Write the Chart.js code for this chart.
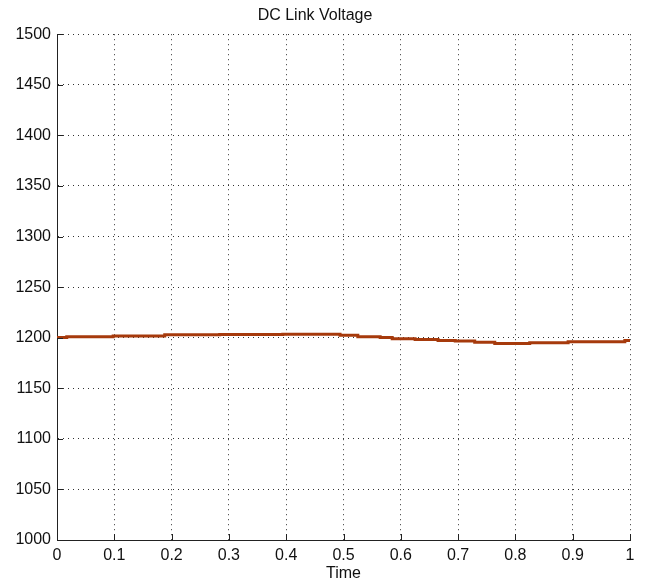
<!DOCTYPE html>
<html>
<head>
<meta charset="utf-8">
<title>DC Link Voltage</title>
<script src="https://cdn.jsdelivr.net/npm/chart.js@4"></script>
<style>
  html, body { margin: 0; padding: 0; background: #fff; }
  #chart { display: block; }
</style>
</head>
<body>
<canvas id="chart" width="645" height="585"></canvas>
<script>
// values
const timeValues = [0, 0.017, 0.098, 0.188, 0.284, 0.394, 0.494, 0.525, 0.564, 0.585, 0.625, 0.665, 0.695, 0.729, 0.764, 0.825, 0.892, 0.991, 1];
const voltageValues = [1199.3, 1200.3, 1201, 1201.7, 1203, 1203.1, 1203.3, 1202.3, 1201, 1200.2, 1199, 1198.3, 1197.3, 1196.6, 1195.5, 1194.3, 1195, 1196, 1197.3];
const xTicks = [0, 0.1, 0.2, 0.3, 0.4, 0.5, 0.6, 0.7, 0.8, 0.9, 1];
const yTicks = [1000, 1050, 1100, 1150, 1200, 1250, 1300, 1350, 1400, 1450, 1500];

const FONT = "'Liberation Sans', Arial, Helvetica, sans-serif";

// short inward tick marks like the matlab axes
const innerTicks = {
    id: 'innerTicks',
    afterDraw(chart) {
        const ctx = chart.ctx;
        const x = chart.scales.x;
        const y = chart.scales.y;
        const area = chart.chartArea;
        ctx.save();
        ctx.strokeStyle = '#222';
        ctx.lineWidth = 1;
        ctx.beginPath();
        xTicks.forEach(t => {
            const px = Math.round(x.getPixelForValue(t)) + 0.5;
            ctx.moveTo(px, area.bottom);
            ctx.lineTo(px, area.bottom - 6);
        });
        yTicks.forEach(v => {
            const py = Math.round(y.getPixelForValue(v)) + 0.5;
            ctx.moveTo(area.left, py);
            ctx.lineTo(area.left + 6, py);
        });
        ctx.stroke();
        ctx.restore();
    }
};

const points = timeValues.map((t, i) => ({ x: t, y: voltageValues[i] }));

new Chart(document.getElementById('chart'), {
    type: 'line',
    data: {
        datasets: [{
            label: 'DC Link Voltage',
            data: points,
            borderColor: '#a63a0c',
            borderWidth: 3,
            pointRadius: 0,
            stepped: 'after',
            fill: false
        }]
    },
    options: {
        responsive: false,
        animation: false,
        devicePixelRatio: 1,
        layout: { padding: { left: 0, right: 15, top: 0, bottom: 0 } },
        plugins: {
            legend: { display: false },
            tooltip: { enabled: false },
            title: {
                display: true,
                text: 'DC Link Voltage',
                color: '#111',
                font: { family: FONT, size: 16, weight: 'normal' },
                padding: { top: 6, bottom: 9 }
            }
        },
        scales: {
            x: {
                type: 'linear',
                min: 0,
                max: 1,
                afterBuildTicks: scale => { scale.ticks = xTicks.map(v => ({ value: v })); },
                afterFit: scale => { scale.height = 45; },
                ticks: {
                    color: '#111',
                    font: { family: FONT, size: 16 },
                    padding: 6,
                    maxRotation: 0,
                    callback: v => String(v)
                },
                grid: { color: '#333', lineWidth: 1, drawTicks: false },
                border: { display: true, color: '#222', width: 1, dash: [1, 4] },
                title: {
                    display: true,
                    text: 'Time',
                    color: '#111',
                    font: { family: FONT, size: 16 },
                    padding: { top: 0, bottom: 2 }
                }
            },
            y: {
                type: 'linear',
                min: 1000,
                max: 1500,
                afterBuildTicks: scale => { scale.ticks = yTicks.map(v => ({ value: v })); },
                afterFit: scale => { scale.width = 57; },
                ticks: {
                    color: '#111',
                    font: { family: FONT, size: 16 },
                    padding: 6,
                    callback: v => String(v)
                },
                grid: { color: '#333', lineWidth: 1, drawTicks: false },
                border: { display: true, color: '#222', width: 1, dash: [1, 4] }
            }
        }
    },
    plugins: [innerTicks]
});
</script>
</body>
</html>
